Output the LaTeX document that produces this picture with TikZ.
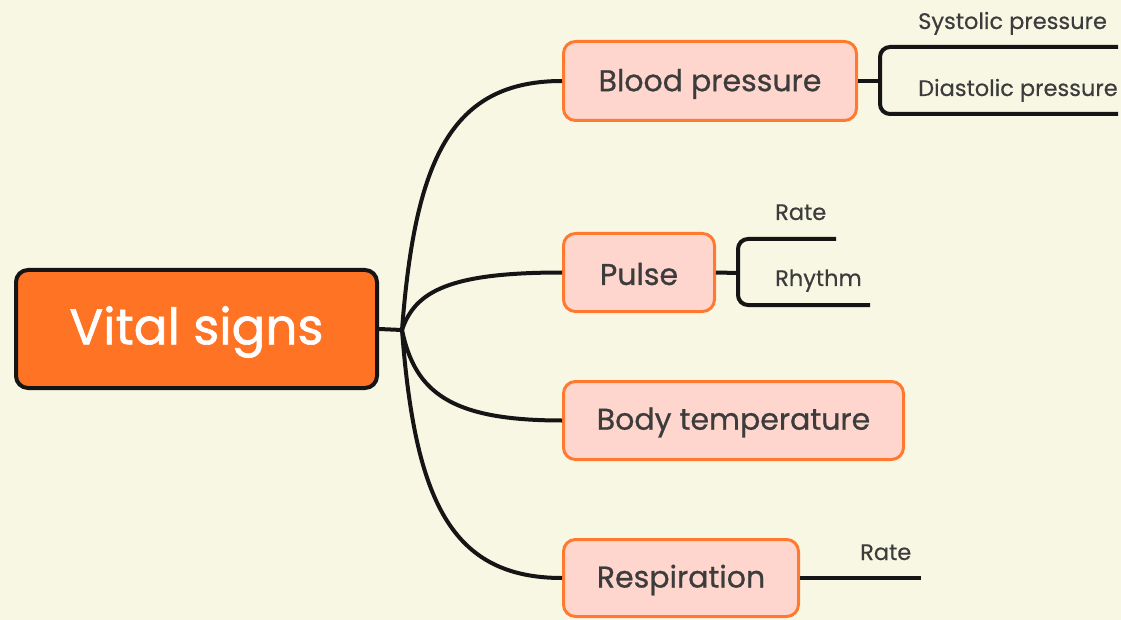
\documentclass[tikz,border=0pt]{standalone}
\usepackage{fontspec}
\setmainfont{Poppins}
\newfontfamily\rootfont{Poppins}[FakeBold=1.2]
\newfontfamily\kidfont{Poppins}[FakeBold=0.8]
\newfontfamily\leaffont{Poppins}[FakeBold=0.4]
\definecolor{bg}{HTML}{F8F7E4}
\definecolor{rootfill}{HTML}{FF7424}
\definecolor{kidfill}{HTML}{FFD6CE}
\definecolor{kidline}{HTML}{FF7A2E}
\definecolor{ink}{HTML}{3C3C3C}
\definecolor{wire}{HTML}{151515}
\newcommand{\lowered}[2]{\raisebox{-#1}[\height][\depth]{#2}}
\tikzset{
  rootbox/.style={draw=wire, line width=4pt, fill=rootfill, rounded corners=12pt,
    text=white, font=\rootfont\fontsize{50}{58}\selectfont, inner sep=0pt},
  kidbox/.style={draw=kidline, line width=3pt, fill=kidfill, rounded corners=12pt,
    text=ink, font=\kidfont\fontsize{30}{36}\selectfont, inner sep=0pt},
  leaf/.style={text=ink, font=\leaffont\fontsize{22.5}{26}\selectfont, inner sep=0pt},
  conn/.style={draw=wire, line width=4pt},
}
\begin{document}
\begin{tikzpicture}[x=1pt, y=-1pt]
\fill[bg] (0,0) rectangle (1121,620);
\useasboundingbox (0,0) rectangle (1121,620);

\node[rootbox, minimum width=361pt, minimum height=118pt] (root) at (196.5,329) {\lowered{3pt}{Vital signs}};
\node[kidbox, minimum width=293pt, minimum height=79pt] (bp) at (710,81) {\lowered{3pt}{Blood pressure}};
\node[kidbox, minimum width=151pt, minimum height=78pt] (pulse) at (639,272.5) {\lowered{1.5pt}{Pulse}};
\node[kidbox, minimum width=340pt, minimum height=78pt] (temp) at (733.5,420.5) {\lowered{2pt}{Body temperature}};
\node[kidbox, minimum width=235pt, minimum height=77pt] (resp) at (681,578) {\lowered{2pt}{Respiration}};

\coordinate (hub) at (402,330);
\draw[conn] (root.east) -- (hub);
\draw[conn] (hub) .. controls +(13,-169) and +(-112,0) .. (bp.west);
\draw[conn] (hub) .. controls +(13,-39) and +(-112,0) .. (pulse.west);
\draw[conn] (hub) .. controls +(13,62) and +(-112,0) .. (temp.west);
\draw[conn] (hub) .. controls +(13,169) and +(-112,0) .. (resp.west);

% Blood pressure leaves
\coordinate (bpj) at (880,81);
\coordinate (bpt) at (1118,47);
\coordinate (bpb) at (1118,114);
\draw[conn] (bp.east) -- (bpj);
\draw[conn, rounded corners=10pt] (bpt) -- (880,47) -- (880,114) -- (bpb);
\node[leaf, anchor=base west] (sys) at (918,29) {Systolic pressure};
\node[leaf, anchor=base west] (dia) at (918,96) {Diastolic pressure};

% Pulse leaves
\coordinate (pj) at (738,273);
\coordinate (pt) at (836,239);
\coordinate (pb) at (870,305);
\draw[conn] (pulse.east) -- (pj);
\draw[conn, rounded corners=10pt] (pt) -- (738,239) -- (738,305) -- (pb);
\node[leaf, anchor=base west] (prate) at (775,220) {Rate};
\node[leaf, anchor=base west] (prhy) at (775,286) {Rhythm};

% Respiration leaf
\coordinate (rj) at (848,578);
\coordinate (re) at (921,578);
\draw[conn] (resp.east) -- (rj);
\draw[conn] (rj) -- (re);
\node[leaf, anchor=base west] (rrate) at (860,560) {Rate};
\end{tikzpicture}
\end{document}
